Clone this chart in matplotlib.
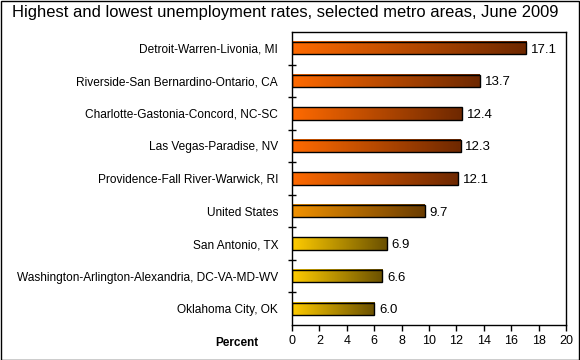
import numpy as np
import matplotlib
matplotlib.use("Agg")
import matplotlib.pyplot as plt
from matplotlib.colors import LinearSegmentedColormap
from matplotlib.patches import Rectangle
from matplotlib.ticker import MultipleLocator, FixedLocator

# ---------------- Data ----------------
areas = [
    "Detroit-Warren-Livonia, MI",
    "Riverside-San Bernardino-Ontario, CA",
    "Charlotte-Gastonia-Concord, NC-SC",
    "Las Vegas-Paradise, NV",
    "Providence-Fall River-Warwick, RI",
    "United States",
    "San Antonio, TX",
    "Washington-Arlington-Alexandria, DC-VA-MD-WV",
    "Oklahoma City, OK",
]
rates = [17.1, 13.7, 12.4, 12.3, 12.1, 9.7, 6.9, 6.6, 6.0]
groups = ["high", "high", "high", "high", "high", "us", "low", "low", "low"]

# gradient colours (left -> right) per group
GRADIENTS = {
    "high": ("#ff6a00", "#6e2800"),
    "us": ("#f29200", "#6a3c00"),
    "low": ("#ffcc00", "#6a5000"),
}

plt.rcParams["font.family"] = ["Liberation Sans", "DejaVu Sans"]

fig = plt.figure(figsize=(5.8, 3.6), dpi=100)
ax = fig.add_axes([292 / 580, 1 - 325 / 360, (566 - 292) / 580, (325 - 32) / 360])

y = np.arange(len(areas))
bars = ax.barh(y, rates, height=0.38, color="none", edgecolor="black", linewidth=1, zorder=3)

# --- fill each bar with a horizontal gradient ---
for bar, grp in zip(bars, groups):
    cmap = LinearSegmentedColormap.from_list(grp, GRADIENTS[grp])
    x0, y0 = bar.get_x(), bar.get_y()
    w, h = bar.get_width(), bar.get_height()
    grad = np.linspace(0, 1, 256).reshape(1, -1)
    ax.imshow(grad, cmap=cmap, aspect="auto", extent=(x0, x0 + w, y0 + h, y0),
              zorder=2, interpolation="bilinear")

for yi, v in zip(y, rates):
    ax.text(v + 0.35, yi, f"{v:.1f}", va="center_baseline", ha="left", fontsize=9.5, zorder=4)

ax.set_xlim(0, 20)
ax.set_ylim(len(areas) - 0.5, -0.5)
ax.xaxis.set_major_locator(MultipleLocator(2))
ax.tick_params(axis="x", direction="out", length=4, labelsize=9, pad=3, width=1)

ax.set_yticks(y)
ax.set_yticklabels(areas, fontsize=8.6)
ax.yaxis.set_minor_locator(FixedLocator(np.arange(0.5, len(areas) - 1, 1.0)))
ax.tick_params(axis="y", which="major", length=0, pad=10)
ax.tick_params(axis="y", which="minor", direction="inout", length=6, width=1)

for s in ax.spines.values():
    s.set_linewidth(1)
    s.set_color("black")

fig.text(12 / 580, 1 - 12 / 360, "Highest and lowest unemployment rates, selected metro areas, June 2009",
         ha="left", va="center", fontsize=11.9)
fig.text(237 / 580, 1 - 343 / 360, "Percent", ha="center", va="center", fontsize=8.5, fontweight="bold")

fig.patches.append(Rectangle((0.5 / 580, 0.5 / 360), 1 - 1.5 / 580, 1 - 1.5 / 360,
                             transform=fig.transFigure, fill=False, edgecolor="black", linewidth=1))

fig.savefig("out.png", dpi=100)
